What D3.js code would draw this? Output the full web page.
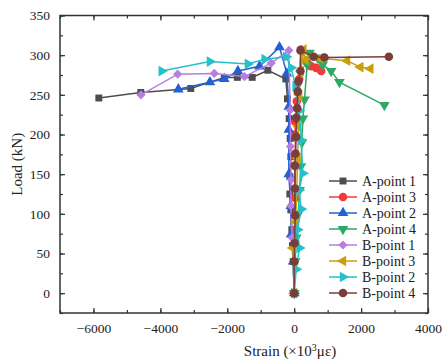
<!DOCTYPE html>
<html lang="en">
<head>
  <meta charset="UTF-8">
  <title>Load vs Strain</title>
  <script src="https://d3js.org/d3.v7.min.js"></script>
  <style>
    body { margin: 0; background: #fff; }
    text { font-family: "Liberation Serif", "Times New Roman", serif; fill: #222; }
    .tick-label { font-size: 13.5px; }
    .axis-title { font-size: 15px; }
    .legend-text { font-size: 14px; }
  </style>
</head>
<body>
  <svg id="chart" width="448" height="362"></svg>

  <script>
    // series names in legend order
    const seriesNames = ["A-point 1", "A-point 3", "A-point 2", "A-point 4",
                         "B-point 1", "B-point 3", "B-point 2", "B-point 4"];
    const seriesColors = ["#4d4d4d", "#f23a3a", "#2360d2", "#2fa866",
                          "#b77ee0", "#c9a00a", "#25c1c9", "#7b3c3c"];
    const seriesSymbols = ["square", "circle", "triUp", "triDown",
                           "diamond", "triLeft", "triRight", "circle"];

    // [strain, load] pairs
    const aPoint1 = [[0,0],[-30,40],[-50,60],[-70,80],[-100,105],[-130,125],[-130,147],[-100,172],
      [-120,195],[-150,220],[-200,245],[-250,270],[-788,281],[-1254,272],[-1700,272],[-2090,272],
      [-3090,258],[-4585,253],[-5840,246]];
    const aPoint3 = [[0,0],[10,40],[20,80],[30,120],[40,160],[30,200],[30,216],[78,242],[150,270],
      [209,307],[400,290],[507,286],[657,284],[806,280]];
    const aPoint2 = [[0,0],[-30,40],[-90,74],[-100,110],[-160,150],[-160,206],[-160,235],[-220,277],
      [-439,310],[-1036,286],[-1683,280],[-2090,270],[-2520,266],[-3463,257]];
    const aPoint4 = [[0,0],[30,40],[60,70],[120,100],[160,130],[200,160],[230,190],[260,220],
      [308,244],[388,288],[457,303],[700,297],[854,288],[1104,280],[1352,266],[2696,237]];
    const bPoint1 = [[0,0],[-20,40],[-60,70],[-100,110],[-90,143],[-110,185],[-120,231],[-160,306],
      [-687,290],[-1484,273],[-2388,277],[-3483,276],[-4580,250]];
    const bPoint3 = [[0,0],[-40,57],[40,90],[80,130],[100,170],[130,210],[150,250],[200,280],
      [278,307],[337,294],[785,296],[1582,293],[1979,285],[2278,283]];
    const bPoint2 = [[0,0],[60,30],[158,57],[100,80],[209,106],[150,130],[257,151],[209,193],
      [150,230],[39,261],[-90,284],[-240,298],[-886,295],[-1385,289],[-2520,292],[-3961,280]];
    const bPoint4 = [[0,0],[0,40],[10,63],[30,98],[20,132],[18,161],[39,176],[60,197],[60,221],
      [90,233],[107,254],[128,267],[188,280],[188,306],[585,298],[904,297],[2830,298]];

    const seriesData = [aPoint1, aPoint3, aPoint2, aPoint4, bPoint1, bPoint3, bPoint2, bPoint4];

    const xTicks = [-6000, -4000, -2000, 0, 2000, 4000];
    const yTicks = [0, 50, 100, 150, 200, 250, 300, 350];

    const svg = d3.select("#chart");
    const plotLeft = 60, plotRight = 428, plotTop = 15.5, plotBottom = 313;

    const x = d3.scaleLinear().domain([-7000, 4000]).range([plotLeft, plotRight]);
    const y = d3.scaleLinear().domain([-25, 350]).range([plotBottom, plotTop]);

    const symbolFor = {
      square: { type: d3.symbolSquare, rot: 0, size: 48 },
      circle: { type: d3.symbolCircle, rot: 0, size: 58 },
      triUp: { type: d3.symbolTriangle, rot: 0, size: 50 },
      triDown: { type: d3.symbolTriangle, rot: 180, size: 50 },
      diamond: { type: d3.symbolSquare, rot: 45, size: 42 },
      triLeft: { type: d3.symbolTriangle, rot: -90, size: 50 },
      triRight: { type: d3.symbolTriangle, rot: 90, size: 50 }
    };

    // axes (inward ticks on all four sides)
    const axisColor = "#333";
    const minorX = d3.range(-7000, 4001, 1000);
    const minorY = d3.range(-25, 351, 25);
    const gx = svg.append("g").attr("transform", `translate(0,${plotBottom})`)
      .call(d3.axisBottom(x).tickValues(xTicks).tickSize(-5).tickPadding(10).tickFormat(d3.format("d")));
    const gxMinor = svg.append("g").attr("transform", `translate(0,${plotBottom})`)
      .call(d3.axisBottom(x).tickValues(minorX).tickSize(-3).tickFormat(""));
    const gxTop = svg.append("g").attr("transform", `translate(0,${plotTop})`)
      .call(d3.axisTop(x).tickValues(xTicks).tickSize(-5).tickFormat(""));
    const gxTopMinor = svg.append("g").attr("transform", `translate(0,${plotTop})`)
      .call(d3.axisTop(x).tickValues(minorX).tickSize(-3).tickFormat(""));

    const gy = svg.append("g").attr("transform", `translate(${plotLeft},0)`)
      .call(d3.axisLeft(y).tickValues(yTicks).tickSize(-5).tickPadding(10));
    const gyMinor = svg.append("g").attr("transform", `translate(${plotLeft},0)`)
      .call(d3.axisLeft(y).tickValues(minorY).tickSize(-3).tickFormat(""));
    const gyRight = svg.append("g").attr("transform", `translate(${plotRight},0)`)
      .call(d3.axisRight(y).tickValues(yTicks).tickSize(-5).tickFormat(""));
    const gyRightMinor = svg.append("g").attr("transform", `translate(${plotRight},0)`)
      .call(d3.axisRight(y).tickValues(minorY).tickSize(-3).tickFormat(""));

    [gx, gxMinor, gxTop, gxTopMinor, gy, gyMinor, gyRight, gyRightMinor].forEach(g => {
      g.select(".domain").remove();
      g.selectAll("line").attr("stroke", axisColor).attr("stroke-width", 1.2);
      g.selectAll("text").attr("class", "tick-label").attr("font-size", null)
        .attr("font-family", null).attr("fill", "#222");
    });
    [gx, gy].forEach(g => g.attr("font-size", null).attr("font-family", null));

    svg.append("rect")
      .attr("x", plotLeft).attr("y", plotTop)
      .attr("width", plotRight - plotLeft).attr("height", plotBottom - plotTop)
      .attr("fill", "none").attr("stroke", axisColor).attr("stroke-width", 1.5);

    // axis titles
    svg.append("text").attr("class", "axis-title")
      .attr("x", 290).attr("y", 356)
      .attr("text-anchor", "middle")
      .html("Strain (×10<tspan dy='-5' font-size='10'>3</tspan><tspan dy='5'>με)</tspan>");

    svg.append("text").attr("class", "axis-title")
      .attr("transform", `translate(22,${(plotTop + plotBottom) / 2}) rotate(-90)`)
      .attr("text-anchor", "middle")
      .text("Load (kN)");

    // series
    const line = d3.line().x(d => x(d[0])).y(d => y(d[1]));
    const plot = svg.append("g");

    seriesData.forEach((data, i) => {
      const g = plot.append("g");
      g.append("path")
        .datum(data)
        .attr("d", line)
        .attr("fill", "none")
        .attr("stroke", seriesColors[i])
        .attr("stroke-width", 1.5);
      const s = symbolFor[seriesSymbols[i]];
      g.selectAll("path.marker")
        .data(data)
        .enter()
        .append("path")
        .attr("class", "marker")
        .attr("d", d3.symbol().type(s.type).size(s.size))
        .attr("transform", d => `translate(${x(d[0])},${y(d[1])}) rotate(${s.rot})`)
        .attr("fill", seriesColors[i]);
    });

    // legend
    const legend = svg.append("g");
    seriesNames.forEach((name, i) => {
      const ly = 181 + i * 16;
      legend.append("line")
        .attr("x1", 329).attr("x2", 357).attr("y1", ly).attr("y2", ly)
        .attr("stroke", seriesColors[i]).attr("stroke-width", 1.5);
      const s = symbolFor[seriesSymbols[i]];
      legend.append("path")
        .attr("d", d3.symbol().type(s.type).size(s.size))
        .attr("transform", `translate(343,${ly}) rotate(${s.rot})`)
        .attr("fill", seriesColors[i]);
      legend.append("text").attr("class", "legend-text")
        .attr("x", 362).attr("y", ly + 4.5)
        .text(name);
    });
  </script>
</body>
</html>
